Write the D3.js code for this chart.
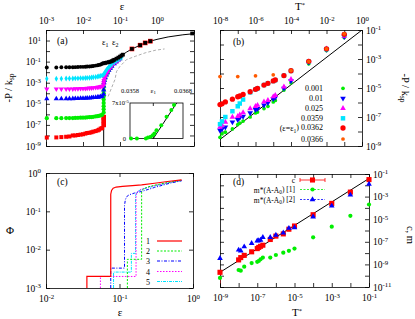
<!DOCTYPE html>
<html><head><meta charset="utf-8">
<script src="https://cdn.jsdelivr.net/npm/d3@7"></script>
<style>body{margin:0;background:#fff}svg{display:block}</style>
</head><body><script>
// ---------------- DATA ----------------
// Panel (a): -P/ksp vs eps, series by temperature
const aEps = [0.00105,0.0019,0.0026,0.0035,0.0043,0.0053,0.0062,0.0073,0.0086,0.01,0.0116,0.013,0.015,0.017,0.019,0.022,0.025,0.027,0.030,0.033];
const aBlack = [2.8e-2,2.8e-2,2.9e-2,2.9e-2,2.95e-2,2.95e-2,3.0e-2,3.1e-2,3.2e-2,3.2e-2,3.3e-2,3.4e-2,3.5e-2,3.7e-2,3.9e-2,4.2e-2,4.6e-2,4.9e-2,5.4e-2,6.3e-2];
const aCyan  = [2.4e-3,2.4e-3,2.4e-3,2.5e-3,2.5e-3,2.5e-3,2.6e-3,2.6e-3,2.7e-3,2.7e-3,2.8e-3,2.9e-3,3.0e-3,3.1e-3,3.3e-3,3.5e-3,3.8e-3,4.1e-3,4.5e-3,5.0e-3];
const aMag   = [2.5e-4,2.5e-4,2.5e-4,2.6e-4,2.6e-4,2.6e-4,2.7e-4,2.7e-4,2.8e-4,2.8e-4,2.9e-4,3.0e-4,3.1e-4,3.2e-4,3.4e-4,3.6e-4,3.8e-4,4.0e-4,4.3e-4,4.6e-4];
const aBlue  = [3.0e-5,3.0e-5,3.0e-5,3.1e-5,3.1e-5,3.1e-5,3.2e-5,3.2e-5,3.3e-5,3.3e-5,3.4e-5,3.5e-5,3.6e-5,3.7e-5,3.9e-5,4.1e-5,4.3e-5,4.5e-5,4.8e-5,5.2e-5];
const aGreen = [4.3e-7,4.3e-7,4.3e-7,4.4e-7,4.5e-7,4.5e-7,4.6e-7,4.7e-7,4.8e-7,4.9e-7,5.0e-7,5.2e-7,5.4e-7,5.6e-7,5.9e-7,6.3e-7,6.8e-7,7.3e-7,8.0e-7,9.0e-7];
const aRed   = [6.3e-9,6.5e-9,7e-9,7.5e-9,8e-9,1.0e-8,1.0e-8,1.1e-8,1.2e-8,1.3e-8,1.5e-8,1.7e-8,1.8e-8,2.0e-8,2.3e-8,2.6e-8,3.0e-8,3.5e-8,4.5e-8,5.0e-8];
// points beyond eps1
const aBlackHiE = [0.0362,0.04,0.045,0.05,0.055,0.06,0.065,0.07,0.08,0.09,0.1,0.11,0.12,0.21,0.35,0.48,0.66,8.9];
const aBlackHiP = [7.0e-2,7.6e-2,8.3e-2,9.0e-2,0.1,0.11,0.13,0.15,0.19,0.24,0.3,0.38,0.46,1.6,3.6,6.0,8.7,47];
const aCyanHiE = [0.0362,0.038,0.04,0.043,0.046,0.05,0.055,0.06,0.07,0.08,0.09,0.1,0.11];
const aCyanHiP = [6e-3,8e-3,1.1e-2,1.6e-2,2.2e-2,3.0e-2,4.2e-2,5.5e-2,8.5e-2,0.12,0.16,0.21,0.26];
const aMagHiE = [0.0362,0.0362,0.037,0.038,0.04,0.043,0.046,0.05,0.055,0.06,0.07,0.08,0.09,0.1];
const aMagHiP = [6e-4,1e-3,1.6e-3,2.5e-3,4e-3,7e-3,1.1e-2,1.8e-2,2.8e-2,4e-2,7e-2,0.1,0.14,0.2];
const aBlueHiE = [0.0362,0.0362,0.0362,0.037,0.038,0.04,0.043,0.046,0.05,0.055,0.06,0.07,0.08,0.09,0.1];
const aBlueHiP = [8e-5,2e-4,5e-4,1e-3,1.6e-3,3e-3,5.5e-3,9e-3,1.5e-2,2.4e-2,3.6e-2,6.5e-2,0.1,0.14,0.19];
const aGreenHiE = [0.0362,0.0362,0.0362,0.0362,0.0362,0.0362,0.0362,0.0362,0.0362,0.0362,0.038,0.04,0.043,0.046,0.05,0.055,0.06,0.07,0.08,0.1];
const aGreenHiP = [1.5e-6,3e-6,6e-6,1.2e-5,2.5e-5,5e-5,1e-4,2e-4,4e-4,8e-4,1.5e-3,3e-3,6e-3,1e-2,1.6e-2,2.5e-2,4e-2,7e-2,0.1,0.19];
const aRedHiE = [0.0362,0.0362,0.0362,0.21,0.35,0.48,0.66];
const aRedHiP = [1e-7,2.5e-7,5.4e-7,1.6,3.6,6.0,8.7];
// zero-temperature curve (solid) and dashed curve
const aCurveE = [0.0362,0.0362,0.04,0.05,0.06,0.08,0.1,0.15,0.21,0.35,0.48,0.66,1,2,5,10];
const aCurveP = [1e-9,2e-3,1e-2,4e-2,8e-2,0.17,0.3,0.8,1.6,3.6,6.0,8.7,13,22,35,45];
const aDashE = [0.048,0.059,0.073,0.081,0.1,0.15,0.26,0.48,0.9,1.6];
const aDashP = [5e-5,3.2e-4,2e-3,1.2e-2,3.6e-2,0.155,0.32,0.68,1.2,1.6];
// inset
const inE = [0.03582,0.03593,0.0361,0.03614,0.03619,0.03623,0.03626,0.0363,0.03639,0.03649,0.03658,0.03663];
const inP = [0,0,0,2e-6,3.3e-6,6.6e-6,1e-5,1.65e-5,2.6e-5,4.3e-5,5.6e-5,6.6e-5];
const inLineE = [0.03624,0.03668];
const inLineP = [0,7e-5];

// Panel (b): -P/ksp vs T*
const bT = [1e-8,1.3e-8,2e-8,5e-8,1e-7,1.3e-7,2e-7,5e-7,1e-6,1.3e-6,3e-6,5e-6,1e-5,1.3e-5,4e-5,1e-4,1e-3,1e-2,1e-1];
const bGreen = [4.0e-9,6.9e-9,8.9e-9,1.5e-8,3.0e-8,3.8e-8,5.2e-8,1.0e-7,1.9e-7,2.2e-7,3.8e-7,5.5e-7,1.1e-6,1.4e-6,7.2e-6,2.3e-5,4.7e-4,3.8e-3,3.0e-2];
const bBlue  = [1.2e-8,1.5e-8,2.0e-8,4.5e-8,6.5e-8,8.9e-8,1.1e-7,1.9e-7,3.2e-7,3.8e-7,6.5e-7,9.5e-7,1.8e-6,2.2e-6,9.5e-6,3.1e-5,5.9e-4,4.5e-3,3.4e-2];
const bMag   = [2.0e-8,2.6e-8,4.5e-8,1.0e-7,1.1e-7,1.4e-7,2.0e-7,3.8e-7,5.5e-7,6.5e-7,1.1e-6,1.4e-6,2.5e-6,3.1e-6,1.2e-5,4.0e-5,6.5e-4,5.0e-3,3.8e-2];
const bCyan  = [3.2e-8,5.0e-8,1.0e-7,2.5e-7,5.5e-7,8.5e-7,1.6e-6,5.0e-6,7.9e-6,9.3e-6,1.6e-5,2.1e-5,3.0e-5,3.5e-5,7.1e-5,1.5e-4,6.6e-4,4.8e-3,4.7e-2];
const bRed   = [7.2e-7,8.1e-7,1.1e-6,1.7e-6,2.5e-6,2.8e-6,3.6e-6,5.5e-6,8.1e-6,9.5e-6,1.6e-5,2.1e-5,3.1e-5,3.6e-5,7.2e-5,1.55e-4,6.9e-4,5.0e-3,5.0e-2];
const bOrT = [1e-8,1e-7,1e-6,1e-5,1e-4,1e-3,1e-2,1e-1];
const bOrange = [6.2e-5,6.2e-5,6.9e-5,8.1e-5,1.6e-4,6.9e-4,5.0e-3,5.5e-2];
const bLineT = [1e-8,1];
const bLineP = [2.8e-9,1e-1];
const bLegend = ["0.001","0.01","0.025","0.0359","0.0362","0.0366"];

// Panel (c): Phi vs eps
const c1E = [0.036,0.036,0.076,0.076,0.078,0.082,0.09,0.11,0.15,0.2,0.3,0.45,0.7];
const c1P = [0.001,0.002,0.002,0.28,0.35,0.4,0.43,0.45,0.47,0.49,0.54,0.6,0.66];
const c2E = [0.128,0.128,0.2,0.2,0.21,0.24,0.3,0.4,0.55,0.7];
const c2P = [0.001,0.0056,0.0056,0.33,0.38,0.43,0.48,0.54,0.6,0.65];
const c3E = [0.076,0.076,0.117,0.117,0.12,0.125,0.135,0.16,0.2,0.3,0.5,0.7];
const c3P = [0.001,0.0033,0.0033,0.14,0.2,0.24,0.27,0.3,0.33,0.42,0.55,0.63];
const c4E = [0.055,0.055,0.168,0.168,0.172,0.18,0.2,0.25,0.35,0.5,0.7];
const c4P = [0.001,0.002,0.002,0.25,0.3,0.34,0.38,0.43,0.5,0.58,0.64];
const c5E = [0.083,0.083,0.145,0.145,0.165,0.165,0.17,0.18,0.2,0.25,0.35,0.5,0.7];
const c5P = [0.001,0.0026,0.0026,0.008,0.008,0.25,0.3,0.34,0.37,0.42,0.49,0.57,0.63];
const cLegend = ["1","2","3","4","5"];

// Panel (d): c, m vs T*
const dT = [1e-9,1e-8,1.3e-8,2e-8,5e-8,1e-7,1.2e-7,1.5e-7,2e-7,5e-7,1e-6,2.5e-6,5e-6,1e-5,1e-4,1e-3,1e-2,1e-1];
const dC  = [2.0e-10,2.5e-9,4.0e-9,6.3e-9,1.3e-8,2.5e-8,3.2e-8,4.0e-8,5.0e-8,1.6e-7,3.2e-7,5.0e-7,1.3e-6,2.5e-6,2.5e-5,2.5e-4,2.5e-3,3.2e-2];
const dCerrLo = [2.0e-11,null,null,null,null,null,null,null,null,null,null,null,null,null,null,null,null,null];
const dM2 = [3.5e-9,1.9e-8,1.6e-8,3.7e-8,7.4e-8,1.2e-7,1.3e-7,1.4e-7,2.5e-7,2.5e-7,4.0e-7,6.3e-7,1.6e-6,1.8e-6,1.6e-5,1.5e-4,1.4e-3,1.3e-2];
const dM1 = [6.3e-11,3.2e-10,2.8e-10,6.3e-10,1.3e-9,1.7e-9,2.0e-9,2.8e-9,4.0e-9,4.0e-9,6.8e-9,1.1e-8,1.6e-8,2.5e-8,2.5e-7,2.2e-6,2.0e-5,2.0e-4];
const dLineT = [1e-9,1e-1];
const dLineC = [2.0e-10,4.0e-2];
const dLegend = ["c","m*(A-A0) [1]","m*(A-A0) [2]"];

// ---------------- DRAWING ----------------
const W=415,H=319,FS=9.5,TS=4;
const FONT='"Liberation Serif","DejaVu Serif",serif';
const svg=d3.select('body').append('svg').attr('width',W).attr('height',H)
  .attr('font-family',FONT);
svg.append('rect').attr('width',W).attr('height',H).attr('fill','#fff');

const COL={black:'#000',cyan:'#00e5ff',mag:'#ff00ff',blue:'#0000ff',green:'#00ee00',red:'#ff0000',orange:'#ff5a00',gray:'#999'};

function decades(dom){const a=Math.round(Math.log10(dom[0])),b=Math.round(Math.log10(dom[1]));const r=[];for(let e=a;e<=b;e++)r.push(Math.pow(10,e));return r;}

function fixLabels(g){
  g.selectAll('.tick text').each(function(d){
    const t=d3.select(this);
    if(t.text()!=='L'){t.text('');return;}
    const e=Math.round(Math.log10(d));
    t.text('');
    t.append('tspan').text('10');
    t.append('tspan').attr('dy','-0.45em').attr('font-size','0.72em').text(e);
  });
}

function panel(o){
  const x=d3.scaleLog().domain(o.xd).range([o.x0,o.x1]);
  const y=d3.scaleLog().domain(o.yd).range([o.y1,o.y0]);
  const id='clip'+o.name;
  svg.append('clipPath').attr('id',id).append('rect')
    .attr('x',o.x0).attr('y',o.y0).attr('width',o.x1-o.x0).attr('height',o.y1-o.y0);
  const xt=decades(o.xd), yt=decades(o.yd);
  const mk=(axis,scale,ticks,labels,pad)=>axis(scale).tickValues(ticks).tickSizeInner(-TS).tickSizeOuter(0)
    .tickPadding(pad).tickFormat(d=>labels&&labels.includes(Math.round(Math.log10(d)))?'L':'');
  const ax=[
    [d3.axisBottom,x,xt,o.xlabSide==='bottom'?o.xlab:null,`translate(0,${o.y1})`,o.padB||7],
    [d3.axisTop,x,xt,o.xlabSide==='top'?o.xlab:null,`translate(0,${o.y0})`,o.padT||6],
    [d3.axisLeft,y,yt,o.ylabSide==='left'?o.ylab:null,`translate(${o.x0},0)`,o.padL||5],
    [d3.axisRight,y,yt,o.ylabSide==='right'?o.ylab:null,`translate(${o.x1},0)`,o.padR||4]
  ];
  ax.forEach(([a,s,t,l,tr,pad])=>{
    const g=svg.append('g').attr('transform',tr).call(mk(a,s,t,l,pad));
    g.attr('font-size',FS).attr('font-family',FONT);
    g.selectAll('path,line').attr('stroke','#000').attr('stroke-width',0.8);
    fixLabels(g);
  });
  const g=svg.append('g');
  return {x,y,g,id};
}

function scatter(p,xs,ys,sym,size,color,rot){
  p.g.append('g').selectAll('path').data(xs.map((d,i)=>[d,ys[i]])).join('path')
    .attr('transform',d=>`translate(${p.x(d[0])},${p.y(d[1])})${rot?' rotate(180)':''}`)
    .attr('d',d3.symbol(sym,size)).attr('fill',color);
}
function line(p,xs,ys,color,w,dash){
  p.g.append('path').datum(xs.map((d,i)=>[d,ys[i]])).attr('clip-path',`url(#${p.id})`)
    .attr('d',d3.line().x(d=>p.x(d[0])).y(d=>p.y(d[1])))
    .attr('fill','none').attr('stroke',color).attr('stroke-width',w)
    .attr('stroke-dasharray',dash||null);
}
function txt(x,y,s,opt={}){
  const t=svg.append('text').attr('x',x).attr('y',y).attr('font-size',opt.fs||FS)
    .attr('text-anchor',opt.anchor||'start');
  if(s) t.text(s);
  if(opt.rot) t.attr('transform',`rotate(${opt.rot},${x},${y})`);
  return t;
}
function sub(t,base,s,shift){t.append('tspan').text(base);t.append('tspan').attr('dy',shift).attr('font-size','0.7em').text(s);return t;}

const SC=d3.symbolCircle,SS=d3.symbolSquare,ST=d3.symbolTriangle,SD=d3.symbolDiamond;

// ---- Panel (a)
const pa=panel({name:'a',x0:46,x1:194,y0:30,y1:146,xd:[1e-3,10],yd:[1e-9,1e2],
  xlabSide:'top',xlab:[-3,-2,-1,0],ylabSide:'left',ylab:[1,-1,-3,-5,-7,-9]});
line(pa,aDashE,aDashP,COL.gray,0.8,'3,2');
line(pa,aCurveE,aCurveP,COL.black,1);
scatter(pa,aEps,aRed,SS,16,COL.red);
scatter(pa,aRedHiE,aRedHiP,SS,22,COL.red);
scatter(pa,aEps,aGreen,SC,14,COL.green);
scatter(pa,aGreenHiE,aGreenHiP,SC,14,COL.green);
scatter(pa,aEps,aBlue,ST,12,COL.blue);
scatter(pa,aBlueHiE,aBlueHiP,ST,12,COL.blue);
scatter(pa,aEps,aMag,ST,12,COL.mag,true);
scatter(pa,aMagHiE,aMagHiP,ST,12,COL.mag,true);
scatter(pa,aEps,aCyan,SD,10,COL.cyan);
scatter(pa,aCyanHiE,aCyanHiP,SD,10,COL.cyan);
scatter(pa,aEps,aBlack,SC,12,COL.black);
scatter(pa,aBlackHiE,aBlackHiP,SS,14,COL.black);
txt(57,44,'(a)');
sub(txt(102,45,'',{fs:8.5}),'ε','1','0.3em');
sub(txt(112,45,'',{fs:8.5}),'ε','2','0.3em');

// inset
{
  const ix0=130,ix1=183,iy0=103,iy1=138.5;
  const ix=d3.scaleLinear().domain([0.0358,0.0368]).range([ix0,ix1]);
  const iy=d3.scaleLinear().domain([0,7e-5]).range([iy1,iy0]);
  const g=svg.append('g');
  g.append('rect').attr('x',ix0).attr('y',iy0).attr('width',ix1-ix0).attr('height',iy1-iy0)
    .attr('fill','#fff').attr('stroke','#000').attr('stroke-width',0.8);
  [0.03624].forEach(v=>{
    g.append('line').attr('x1',ix(v)).attr('x2',ix(v)).attr('y1',iy0).attr('y2',iy0+3).attr('stroke','#000').attr('stroke-width',0.8);
    g.append('line').attr('x1',ix(v)).attr('x2',ix(v)).attr('y1',iy1).attr('y2',iy1-3).attr('stroke','#000').attr('stroke-width',0.8);
  });
  g.append('path').datum(inLineE.map((d,i)=>[d,inLineP[i]]))
    .attr('d',d3.line().x(d=>ix(d[0])).y(d=>iy(d[1]))).attr('stroke','#000').attr('stroke-width',1).attr('fill','none');
  g.selectAll('circle').data(inE.map((d,i)=>[d,inP[i]])).join('circle')
    .attr('cx',d=>ix(d[0])).attr('cy',d=>iy(d[1])).attr('r',2).attr('fill',COL.green);
  txt(ix(0.0358),93,'0.0358',{fs:6.5,anchor:'middle'});
  sub(txt(ix(0.03624),93,'',{fs:7,anchor:'middle'}),'ε','1','0.3em');
  txt(ix(0.0368),93,'0.0368',{fs:6.5,anchor:'middle'});
  const t7=txt(ix0-1,iy0+2,'',{fs:6.5,anchor:'end'});
  t7.append('tspan').text('7x10');t7.append('tspan').attr('dy','-0.4em').attr('font-size','0.75em').text('-5');
  txt(ix0-4,iy1+2,'0',{fs:6.5,anchor:'end'});
}

// axis titles (a)/(b)
txt(122,10,'ε',{fs:11,anchor:'middle'});
sub(txt(12,88,'',{fs:10.5,anchor:'middle',rot:-90}),'-P / k','sp','0.3em');
const tT=txt(300,10,'',{fs:11,anchor:'middle'});tT.append('tspan').text('T');tT.append('tspan').attr('dy','-0.4em').attr('font-size','0.6em').text('*');
sub(txt(402,88,'',{fs:10.5,anchor:'middle',rot:90}),'-P / k','sp','0.3em');

// ---- Panel (b)
const pb=panel({name:'b',x0:220,x1:362,y0:30,y1:146,xd:[1e-8,1],yd:[1e-9,1e-1],
  xlabSide:'top',xlab:[-8,-6,-4,-2,0],ylabSide:'right',ylab:[-1,-3,-5,-7,-9]});
line(pb,bLineT,bLineP,COL.black,1);
scatter(pb,bT,bGreen,SC,11,COL.green);
scatter(pb,bT,bBlue,ST,14,COL.blue,true);
scatter(pb,bT,bMag,ST,14,COL.mag);
scatter(pb,bT,bCyan,SS,20,COL.cyan);
scatter(pb,bT,bRed,SC,22,COL.red);
scatter(pb,bOrT,bOrange,SC,11,COL.orange);
txt(233,45,'(b)');
{
  const rows=[88.3,98.3,108.3,118.3,128,139];
  const syms=[[SC,11,COL.green,false],[ST,14,COL.blue,true],[ST,14,COL.mag,false],[SS,20,COL.cyan,false],[SC,22,COL.red,false],[SC,11,COL.orange,false]];
  bLegend.forEach((s,i)=>{
    const t=txt(323,rows[i]+3,'',{fs:8,anchor:'end'});
    if(i===4){t.append('tspan').text('(ε=ε');t.append('tspan').attr('dy','0.3em').attr('font-size','0.7em').text('1');t.append('tspan').attr('dy','-0.3em').text(') '+s);}
    else t.text(s);
    const [sy,sz,c,r]=syms[i];
    svg.append('path').attr('transform',`translate(343,${rows[i]})${r?' rotate(180)':''}`).attr('d',d3.symbol(sy,sz)).attr('fill',c);
  });
}

// ---- Panel (c)
const pc=panel({name:'c',x0:46,x1:193,y0:173,y1:288,xd:[1e-2,1],yd:[1e-3,1],
  xlabSide:'bottom',xlab:[-2,-1,0],ylabSide:'left',ylab:[0,-1,-2,-3]});
const cStyles=[[COL.red,1.2,null],[COL.green,1,'2,1.5'],[COL.blue,1,'3,1.5,1,1.5'],[COL.mag,1,'1.5,1.5'],[COL.cyan,1,'3,1,1,1']];
const cData=[[c1E,c1P],[c2E,c2P],[c3E,c3P],[c4E,c4P],[c5E,c5P]];
[4,3,2,1,0].forEach(i=>line(pc,cData[i][0],cData[i][1],cStyles[i][0],cStyles[i][1],cStyles[i][2]));
txt(57,185,'(c)');
{
  const rows=[241,251,261,271.5,281.5];
  cLegend.forEach((s,i)=>{
    txt(150,rows[i]+3,s,{fs:8,anchor:'end'});
    svg.append('line').attr('x1',157).attr('x2',182).attr('y1',rows[i]).attr('y2',rows[i])
      .attr('stroke',cStyles[i][0]).attr('stroke-width',cStyles[i][1]).attr('stroke-dasharray',cStyles[i][2]);
  });
}
txt(10,234,'Φ',{fs:11,anchor:'middle'});
txt(120,316,'ε',{fs:11,anchor:'middle'});

// ---- Panel (d)
const pd=panel({name:'d',x0:220,x1:369,y0:174,y1:287,xd:[1e-9,1e-1],yd:[1e-11,1e-1],
  xlabSide:'bottom',xlab:[-9,-7,-5,-3,-1],ylabSide:'right',ylab:[-1,-3,-5,-7,-9,-11]});
line(pd,dLineT,dLineC,COL.black,1);
dT.forEach((t,i)=>{ if(dCerrLo[i]) line(pd,[t,t],[dCerrLo[i],dC[i]],COL.red,0.8); });
scatter(pd,dT,dM1,SC,14,COL.green);
scatter(pd,dT,dC,SS,26,COL.red);
scatter(pd,dT,dM2,ST,14,COL.blue);
txt(233,185,'(d)');
{
  const rows=[180,189.5,199.5];
  const st=[[COL.red,null,SS,26],[COL.green,'2,1.5',SC,14],[COL.blue,'2,1.5',ST,14]];
  dLegend.forEach((s,i)=>{
    const t=txt(295,rows[i]+3,'',{fs:7.5,anchor:'end'});
    if(i===0) t.text(s); else {t.append('tspan').text('m*(A-A');t.append('tspan').attr('dy','0.3em').attr('font-size','0.7em').text('0');t.append('tspan').attr('dy','-0.3em').text(i===1?') [1]':') [2]');}
    svg.append('line').attr('x1',300).attr('x2',325).attr('y1',rows[i]).attr('y2',rows[i]).attr('stroke',st[i][0]).attr('stroke-width',0.8).attr('stroke-dasharray',st[i][1]);
    if(i===0){[300,325].forEach(xx=>svg.append('line').attr('x1',xx).attr('x2',xx).attr('y1',rows[i]-2).attr('y2',rows[i]+2).attr('stroke',COL.red).attr('stroke-width',0.8));}
    svg.append('path').attr('transform',`translate(312.5,${rows[i]})`).attr('d',d3.symbol(st[i][2],st[i][3])).attr('fill',st[i][0]);
  });
}
const tT2=txt(297,316,'',{fs:11,anchor:'middle'});tT2.append('tspan').text('T');tT2.append('tspan').attr('dy','-0.4em').attr('font-size','0.6em').text('*');
txt(407,235,'c, m',{fs:10.5,anchor:'middle',rot:90});
</script></body></html>
